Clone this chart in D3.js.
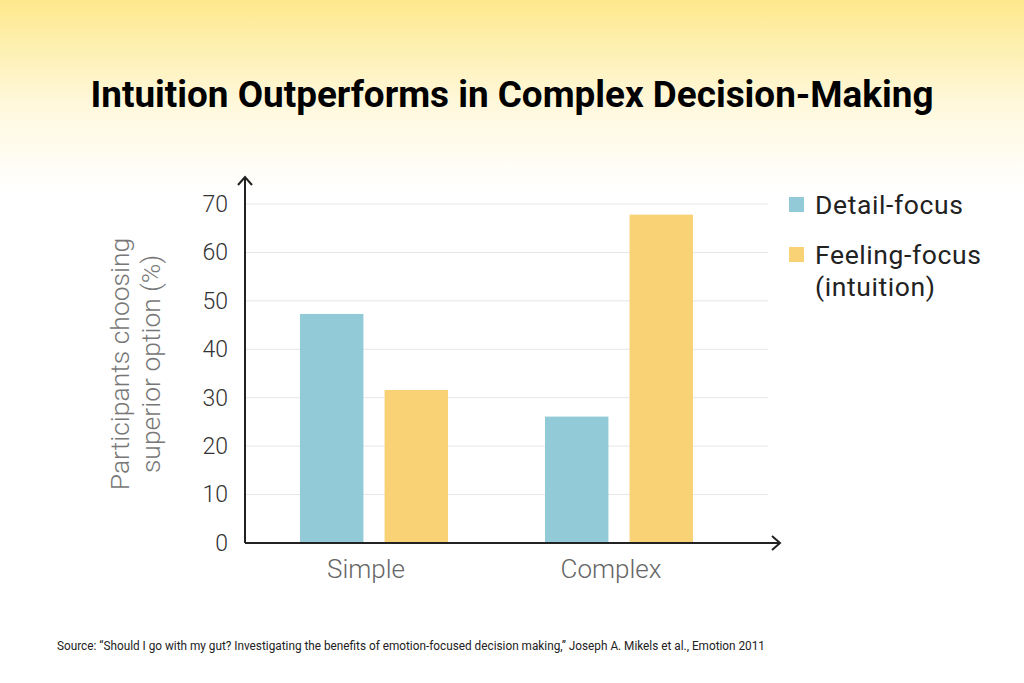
<!DOCTYPE html>
<html>
<head>
<meta charset="utf-8">
<script src="https://cdn.jsdelivr.net/npm/d3@7"></script>
<style>
  html, body { margin: 0; padding: 0; background: #fff; }
  svg { display: block; }
</style>
</head>
<body>
<svg id="chart"></svg>
<script>
const categories = ["Simple", "Complex"];
const seriesNames = ["Detail-focus", "Feeling-focus"];
const detailValues = [47.3, 26.1];
const feelingValues = [31.6, 67.8];
const yTicks = [0, 10, 20, 30, 40, 50, 60, 70];

const width = 1024, height = 683;

const svg = d3.select("#chart")
    .attr("width", width)
    .attr("height", height);

// yellow wash at the top
const defs = svg.append("defs");
const grad = defs.append("linearGradient")
    .attr("id", "bg")
    .attr("x1", 0).attr("y1", 0).attr("x2", 0).attr("y2", 1);
grad.append("stop").attr("offset", "0%").attr("stop-color", "#fde98c");
grad.append("stop").attr("offset", "55%").attr("stop-color", "#fff8dc");
grad.append("stop").attr("offset", "100%").attr("stop-color", "#ffffff");

svg.append("rect")
    .attr("width", width).attr("height", 190)
    .attr("fill", "url(#bg)");

svg.append("text")
    .attr("x", 512)
    .attr("y", 107)
    .attr("text-anchor", "middle")
    .attr("font-family", "Roboto, sans-serif")
    .attr("font-weight", 700)
    .attr("font-size", 37)
    .attr("textLength", 843)
    .attr("lengthAdjust", "spacingAndGlyphs")
    .attr("fill", "#000")
    .text("Intuition Outperforms in Complex Decision-Making");

const axisX = 245, axisBottom = 543;

const y = d3.scaleLinear()
    .domain([0, 70])
    .range([axisBottom, 204]);

const x0 = d3.scaleBand()
    .domain(categories)
    .range([251.5, 741.5])
    .padding(0);

const x1 = d3.scaleBand()
    .domain(seriesNames)
    .range([48.5, 196.5])
    .paddingInner(0.25);

const color = d3.scaleOrdinal()
    .domain(seriesNames)
    .range(["#93cad8", "#f8d274"]);

// gridlines
svg.append("g")
    .selectAll("line")
    .data(yTicks.filter(d => d > 0))
    .enter()
    .append("line")
    .attr("x1", axisX)
    .attr("x2", 768)
    .attr("y1", d => y(d))
    .attr("y2", d => y(d))
    .attr("stroke", "#e6e6e6")
    .attr("stroke-width", 1);

// bars
const rows = categories.map((c, i) => ({
    category: c,
    values: [
        { key: seriesNames[0], value: detailValues[i] },
        { key: seriesNames[1], value: feelingValues[i] }
    ]
}));

svg.append("g")
    .selectAll("g")
    .data(rows)
    .enter()
    .append("g")
    .attr("transform", d => `translate(${x0(d.category)},0)`)
    .selectAll("rect")
    .data(d => d.values)
    .enter()
    .append("rect")
    .attr("x", d => x1(d.key))
    .attr("width", x1.bandwidth())
    .attr("y", d => y(d.value))
    .attr("height", d => y(0) - y(d.value))
    .attr("fill", d => color(d.key));

// y axis, ticks only as labels
const yAxis = d3.axisLeft(y).tickValues(yTicks).tickSize(0).tickPadding(17);
const yg = svg.append("g")
    .attr("transform", `translate(${axisX},0)`)
    .call(yAxis);
yg.select(".domain").remove();
yg.selectAll("text")
    .attr("font-family", "Roboto, sans-serif")
    .attr("font-weight", 300)
    .attr("font-size", 23)
    .attr("fill", "#333");

// x axis labels
const xAxis = d3.axisBottom(x0).tickSize(0).tickPadding(17);
const xg = svg.append("g")
    .attr("transform", `translate(0,${axisBottom})`)
    .call(xAxis);
xg.select(".domain").remove();
xg.selectAll("text")
    .attr("dx", -8)
    .attr("font-family", "Roboto, sans-serif")
    .attr("font-weight", 300)
    .attr("font-size", 26)
    .attr("fill", "#666");

// axis lines with arrow heads
const axisPath = svg.append("g")
    .attr("fill", "none")
    .attr("stroke", "#222")
    .attr("stroke-width", 2);
axisPath.append("path")
    .attr("d", `M${axisX},${axisBottom}V177 M${axisX - 7},${185} L${axisX},177 L${axisX + 7},185`);
axisPath.append("path")
    .attr("d", `M${axisX},${axisBottom}H780 M772,${axisBottom - 7} L780,${axisBottom} L772,${axisBottom + 7}`);

// y title
svg.append("text")
    .attr("transform", "translate(129,364) rotate(-90)")
    .attr("text-anchor", "middle")
    .attr("font-family", "Roboto, sans-serif")
    .attr("font-weight", 300)
    .attr("font-size", 26.5)
    .attr("fill", "#777")
    .selectAll("tspan")
    .data(["Participants choosing", "superior option (%)"])
    .enter()
    .append("tspan")
    .attr("x", 0)
    .attr("dy", (d, i) => i === 0 ? 0 : 31)
    .text(d => d);

// legend
const legendData = [
    { key: seriesNames[0], lines: ["Detail-focus"] },
    { key: seriesNames[1], lines: ["Feeling-focus", "(intuition)"] }
];
const legend = svg.append("g")
    .attr("transform", "translate(789,197)");
const item = legend.selectAll("g")
    .data(legendData)
    .enter()
    .append("g")
    .attr("transform", (d, i) => `translate(0,${i * 50})`);
item.append("rect")
    .attr("width", 15)
    .attr("height", 15)
    .attr("fill", d => color(d.key));
item.append("text")
    .attr("x", 26)
    .attr("y", 17)
    .attr("font-family", "Roboto, sans-serif")
    .attr("font-size", 26.5)
    .attr("letter-spacing", 0.6)
    .attr("fill", "#222")
    .selectAll("tspan")
    .data(d => d.lines)
    .enter()
    .append("tspan")
    .attr("x", 26)
    .attr("dy", (d, i) => i === 0 ? 0 : 32)
    .text(d => d);

// source
svg.append("text")
    .attr("x", 57)
    .attr("y", 650)
    .attr("font-family", "Roboto, sans-serif")
    .attr("font-size", 12)
    .attr("textLength", 708)
    .attr("lengthAdjust", "spacingAndGlyphs")
    .attr("fill", "#222")
    .text("Source: \u201cShould I go with my gut? Investigating the benefits of emotion-focused decision making,\u201d Joseph A. Mikels et al., Emotion 2011");
</script>
</body>
</html>
